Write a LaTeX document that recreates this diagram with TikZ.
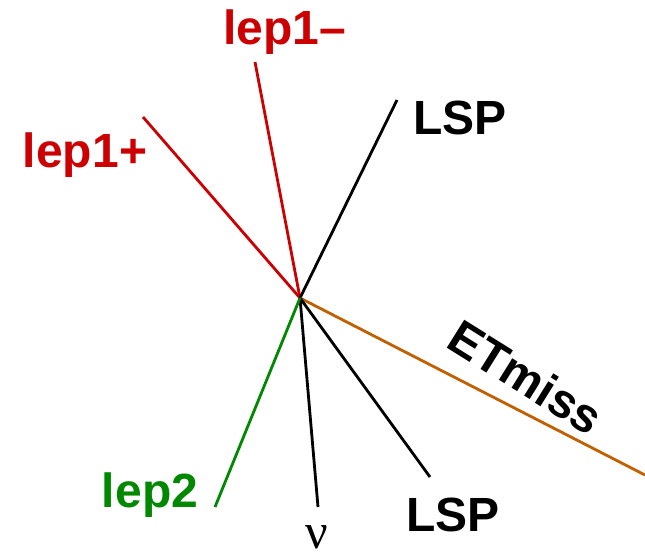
\documentclass[tikz,border=0pt]{standalone}
\usepackage{fontspec}
\setmainfont{Liberation Sans}
\newfontfamily\serifnu{Liberation Serif}
\definecolor{lred}{RGB}{204,0,0}
\definecolor{lgreen}{RGB}{0,136,0}
\definecolor{lorange}{RGB}{192,96,0}
\begin{document}
\begin{tikzpicture}[x=1pt,y=-1pt,
  track/.style={line width=2.8pt},
  lbl/.style={font=\fontsize{48}{48}\bfseries\selectfont, inner sep=0pt}]
\useasboundingbox (0,0) rectangle (645,558);
\coordinate (c) at (300,298);
\coordinate (lm) at (255,62);
\coordinate (lp) at (143,117);
\coordinate (lspt) at (397,100);
\coordinate (et) at (645,475);
\coordinate (lspb) at (430,477);
\coordinate (nu) at (318,507);
\coordinate (l2) at (215,507);
\draw[track,lred] (c) -- (lm);
\draw[track,lred] (c) -- (lp);
\draw[track,black] (c) -- (lspt);
\draw[track,lorange] (c) -- (et);
\draw[track,black] (c) -- (lspb);
\draw[track,black] (c) -- (nu);
\draw[track,lgreen] (c) -- (l2);
\node[lbl,lred] (tlm) at (285,32) {lep1–};
\node[lbl,lred] (tlp) at (85,155) {lep1+};
\node[lbl] (tlspt) at (460,118) {LSP};
\node[lbl,rotate=-32] (tet) at (526,377) {ETmiss};
\node[lbl] (tlspb) at (453,515) {LSP};
\node[lbl,lgreen] (tl2) at (150,495) {lep2};
\node[inner sep=0pt,font=\fontsize{50}{50}\serifnu\selectfont] (tnu) at (317,537) {ν};
\end{tikzpicture}
\end{document}
